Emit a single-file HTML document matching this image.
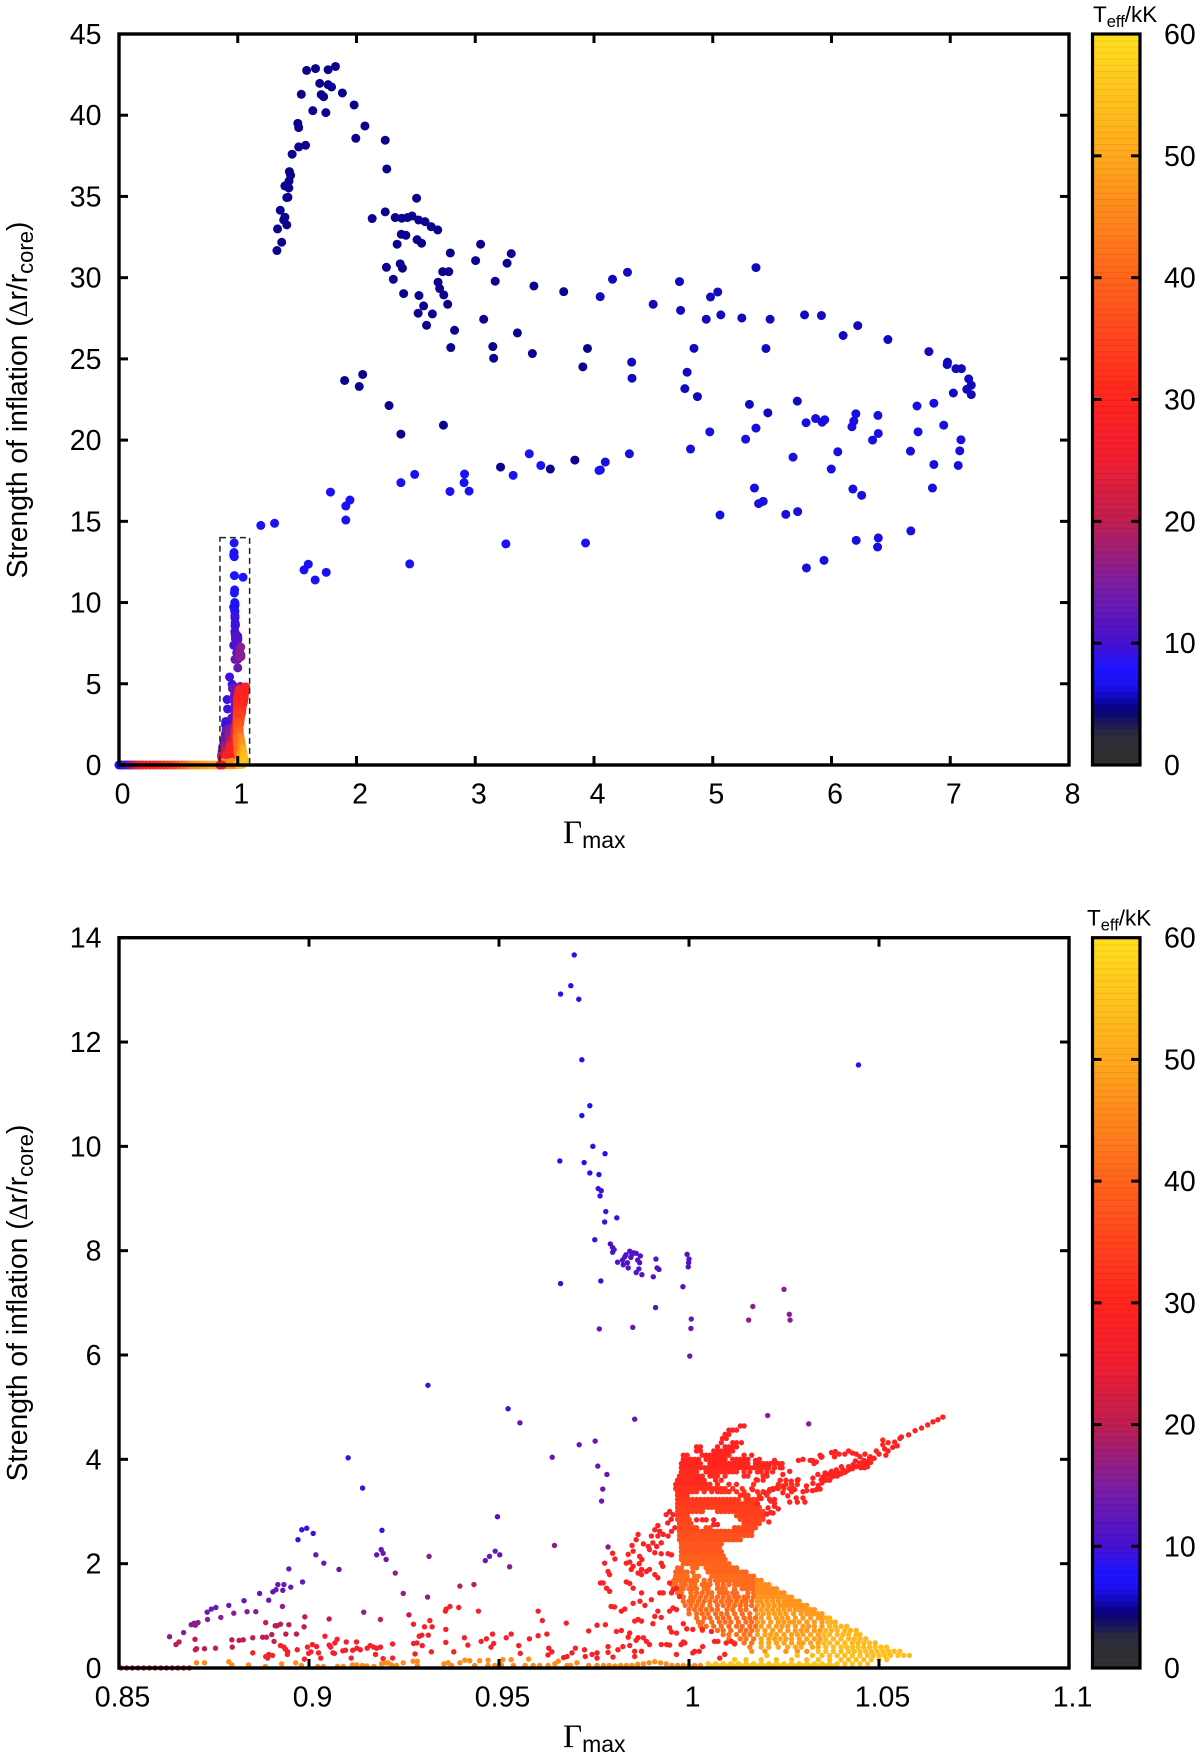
<!DOCTYPE html>
<html>
<head>
<meta charset="utf-8">
<title>Strength of inflation versus Gamma max</title>
<style>
html,body{margin:0;padding:0;background:#fff;}
svg{display:block;}
text{font-family:"Liberation Sans",sans-serif;fill:#000;}
</style>
</head>
<body>
<svg id="figure" xmlns="http://www.w3.org/2000/svg" width="1200" height="1760" viewBox="0 0 1200 1760"></svg>
<script>
// ---- axis tick labels ----
const wideXTicks=[0,1,2,3,4,5,6,7,8];
const wideYTicks=[0,5,10,15,20,25,30,35,40,45];
const zoomXTicks=[0.85,0.9,0.95,1,1.05,1.1];
const zoomYTicks=[0,2,4,6,8,10,12,14];
const teffTicks=[0,10,20,30,40,50,60];
const zoomBoxRange=[0.85,1.1,14];

// ---- colour scale stops: temperature / red / green / blue ----
const paletteTeff=[0,2.5,4.5,6.5,8,10,15,20,25,30,40,50,60];
const paletteRed=[48,45,8,26,30,70,125,190,240,255,255,255,255];
const paletteGreen=[48,45,0,16,20,16,30,30,30,36,100,168,222];
const paletteBlue=[48,60,125,240,255,210,160,80,50,30,28,28,30];

// ---- wide-range points: [Gamma_max, strength] ----
const wideNavy=[[1.33,31.67],[1.37,32.18],[1.335,33],[1.413,33.25],[1.387,33.55],[1.397,33.72],[1.358,34.15],[1.413,34.93],[1.423,34.95],[1.43,35.52],[1.397,35.65],[1.42,35.69],[1.432,35.95],[1.445,36.3],[1.435,36.53],[1.458,37.6],[1.513,38.05],[1.571,38.15],[1.513,39.24],[1.506,39.5],[1.535,41.29],[1.632,40.28],[1.742,40.16],[1.703,41.27],[1.723,41.14],[1.69,41.96],[1.761,41.88],[1.79,41.74],[1.58,42.76],[1.655,42.87],[1.761,42.8],[1.823,43],[1.881,41.37],[1.98,40.63],[2.071,39.34],[1.994,38.58],[2.242,38.46],[2.255,36.69],[2.132,33.64],[2.242,34.05],[2.326,33.7],[2.381,33.66],[2.429,33.7],[2.468,33.8],[2.506,34.89],[2.523,33.55],[2.577,33.45],[2.629,33.14],[2.684,32.94],[2.377,32.67],[2.416,32.61],[2.51,32.34],[2.548,32.12],[2.342,32.06],[2.79,31.52],[2.368,30.85],[2.387,30.58],[2.252,30.64],[2.31,29.9],[2.397,29.02],[2.726,30.37],[2.777,30.37],[2.687,29.72],[2.7,29.33],[2.526,28.9],[2.735,28.94],[2.768,28.36],[2.565,28.26],[2.519,27.81],[2.639,27.77],[2.59,27.07],[2.826,26.76],[2.794,25.7],[3.045,32.06],[3.003,31.05],[3.268,30.89],[3.303,31.48],[3.168,29.78],[3.494,29.49],[3.745,29.14],[3.071,27.44],[3.355,26.6],[3.148,25.76],[3.155,25.04],[3.481,25.33],[3.945,25.64],[3.906,24.51],[1.9,23.67],[2.052,24.04],[2.023,23.3],[2.274,22.13],[2.374,20.37],[2.732,20.92],[3.839,18.77],[3.213,18.34],[3.632,18.22]];
const wideDeep=[[4.052,28.83],[4.156,29.9],[4.282,30.33],[4.498,28.36],[4.72,29.76],[4.729,27.99],[4.981,28.81],[5.042,29.12],[4.945,27.44],[5.068,27.71],[5.245,27.52],[5.483,27.44],[5.364,30.62],[5.773,27.71],[5.915,27.67],[6.098,26.44],[6.221,27.05],[6.475,26.19],[4.842,25.65],[5.448,25.64],[4.317,24.8],[4.32,23.81],[4.784,24.18],[4.765,23.17],[4.871,22.68],[6.82,25.45],[6.977,24.8],[6.974,24.65],[7.048,24.4],[7.094,24.4],[7.155,23.77],[7.177,23.38],[7.139,23.13],[7.177,22.8],[7.026,22.9],[5.712,22.4],[5.309,22.2],[5.464,21.68]];
const wideMid=[[6.72,22.1],[6.862,22.27],[6.205,21.62],[6.391,21.52],[5.786,21.07],[5.866,21.33],[5.921,21.1],[5.943,21.25],[6.188,21.17],[6.172,20.82],[6.394,20.41],[6.346,20],[6.729,20.51],[6.945,20.92],[7.09,20.02],[7.08,19.34],[6.665,19.32],[6.053,19.28],[4.975,20.51],[5.277,20.06],[5.364,20.74],[4.813,19.45],[4.298,19.16],[4.095,18.65],[4.053,18.16],[5.676,18.95],[5.998,18.22],[6.862,18.5],[7.067,18.44],[6.85,17.05],[5.351,17.05],[6.18,16.99],[6.254,16.6],[5.425,16.23],[5.386,16.09],[5.615,15.43],[5.715,15.6],[5.061,15.39],[6.668,14.41],[6.208,13.83],[6.394,13.98],[6.388,13.42],[5.937,12.6],[5.789,12.13]];
const wideBright=[[3.455,19.16],[3.552,18.44],[4.042,18.13],[2.49,17.89],[2.91,17.91],[2.906,17.38],[2.374,17.38],[3.319,17.83],[2.787,16.84],[2.948,16.86],[1.781,16.8],[1.945,16.31],[1.91,15.94],[1.91,15.08],[1.194,14.75],[1.31,14.88],[3.258,13.61],[3.929,13.67],[1.594,12.36],[1.558,12.01],[1.745,11.86],[1.652,11.39],[2.448,12.38]];
// low-Gamma baseline: [Gamma_max, strength, teff]
const wideBaseline=[[0,0,7],[0.02,0,8],[0.04,0,9],[0.06,0,11],[0.08,0,13],[0.1,0,15],[0.12,0,17],[0.14,0,20],[0.16,0,22],[0.18,0,24],[0.2,0,26],[0.23,0,27],[0.26,0,28],[0.29,0,29],[0.32,0,30],[0.35,0,31],[0.38,0,32],[0.41,0,33],[0.44,0,34],[0.47,0,35],[0.5,0,37],[0.53,0,39],[0.56,0,41],[0.59,0,43],[0.62,0,45],[0.65,0,46],[0.68,0,47],[0.71,0,48],[0.74,0,49],[0.77,0,50],[0.8,0,51],[0.83,0,52],[0.86,0,53],[0.89,0,54],[0.92,0,55],[0.95,0,55]];

// ---- zoomed sparse groups: [Gamma_max, strength] ----
const zoomBlue=[[0.9698,13.67],[0.9689,13.08],[0.9662,12.92],[0.971,12.82],[0.9718,11.66],[1.0446,11.56],[0.9739,10.78],[0.9718,10.59],[0.9747,10],[0.9779,9.86],[0.966,9.72],[0.9724,9.69],[0.9739,9.49],[0.9763,9.46]];
const zoomIndigo=[[0.9761,9.19],[0.9769,9.15],[0.9766,9.05],[0.9781,8.75],[0.981,8.63],[0.9778,8.55],[0.9752,8.21],[0.9793,8.13],[0.9103,4.03],[0.9141,3.45],[0.9313,5.42],[0.9524,4.97],[0.9662,7.37],[0.9768,7.42],[0.8981,2.65],[0.8994,2.68],[0.8971,2.46],[0.9011,2.58],[0.9192,2.64]];
const zoomViolet=[[0.9799,8.06],[0.9803,8.02],[0.9799,7.97],[0.9844,7.99],[0.9854,7.96],[0.9861,7.95],[0.985,7.93],[0.9872,7.9],[0.9834,7.92],[0.9847,7.87],[0.9831,7.88],[0.9865,7.82],[0.9913,7.84],[0.9995,7.93],[1,7.84],[0.9999,7.77],[0.9998,7.69],[0.9812,7.78],[0.9825,7.82],[0.9838,7.77],[0.987,7.77],[0.9827,7.73],[0.984,7.67],[0.9868,7.65],[0.9861,7.58],[0.9876,7.54],[0.9916,7.67],[0.9921,7.64],[0.9906,7.5],[0.9984,7.31],[0.9912,6.91],[0.9496,2.9]];
const zoomPurple=[[1.0006,6.69],[1.0005,6.51],[0.9764,6.5],[0.9852,6.53],[1.0002,5.98],[0.9857,4.77],[0.9555,4.7],[0.964,4.04],[0.9711,4.28],[0.9753,4.35],[0.976,3.87],[0.9784,3.71],[0.9773,3.43],[0.977,3.2],[0.919,2.27],[0.9178,2.17],[0.9195,2.2],[0.9203,2.08],[0.9018,2.17],[0.9039,2.01],[0.9079,1.89],[0.8947,1.9],[0.9464,2.06],[0.9475,2.14],[0.949,2.24],[0.9502,2.17],[0.8983,1.65],[0.8918,1.6],[0.8934,1.6],[0.8913,1.5],[0.8905,1.46],[0.8931,1.49],[0.8952,1.55],[0.887,1.43],[0.8829,1.29],[0.8894,1.3],[0.8789,1.2],[0.8755,1.16],[0.8743,1.13],[0.8732,1.07]];
const zoomMagenta=[[1.025,7.26],[1.0168,6.93],[1.0264,6.78],[1.0157,6.67],[1.0266,6.67],[1.0207,4.84],[1.0315,4.68],[0.9227,1.82],[0.9316,2.14],[0.9646,2.35],[0.9787,2.32],[0.893,1.18],[0.8837,1.08],[0.886,1.08],[0.8802,1.05],[0.8768,0.97],[0.8733,0.93],[0.8708,0.87],[0.8698,0.86],[0.869,0.83],[0.8701,0.82],[0.9144,1.07],[0.867,0.68],[0.8633,0.6],[0.9248,1.43],[0.9312,1.36],[0.9528,1.94]];
const zoomCrimson=[[0.9188,0.93],[0.9053,0.94],[0.8989,0.98],[0.8987,0.79],[0.8886,0.87],[0.8911,0.81],[0.8916,0.81],[0.8925,0.84],[0.8947,0.83],[0.8658,0.5],[0.865,0.45],[0.9263,1.02],[0.9397,1.57],[0.9434,1.6],[0.87,0.55],[0.8701,0.35],[0.8704,0.37],[0.8725,0.37],[0.8754,0.38],[0.8797,0.54],[0.8798,0.4],[0.8816,0.53],[0.8827,0.54],[0.8852,0.58],[0.8878,0.59],[0.8888,0.59],[0.8902,0.64],[0.8908,0.51],[0.8939,0.65],[0.8967,0.65]];
const zoomRed=[[0.8925,0.43],[0.8934,0.4],[0.8938,0.36],[0.8944,0.31],[0.8943,0.26],[0.8969,0.35],[0.8852,0.29],[0.8886,0.22],[0.8894,0.26],[0.8904,0.24],[0.8891,0.19],[0.8988,0.17],[0.8996,0.4],[0.9009,0.45],[0.902,0.41],[0.8999,0.28],[0.9005,0.31],[0.9025,0.29],[0.9031,0.19],[0.9042,0.61],[0.9053,0.44],[0.9057,0.4],[0.9074,0.55],[0.9068,0.48],[0.9063,0.29],[0.9067,0.28],[0.9098,0.5],[0.9089,0.33],[0.9096,0.34],[0.9111,0.19],[0.9115,0.34],[0.9125,0.5],[0.9126,0.38],[0.9135,0.35],[0.9153,0.38],[0.9161,0.43],[0.917,0.4],[0.9178,0.38],[0.9188,0.4],[0.9175,0.26],[0.9195,0.18],[0.922,0.46],[0.922,0.19],[0.9275,0.84],[0.9318,0.91],[0.9304,0.79],[0.9324,0.79],[0.9359,1.09],[0.9361,1.13],[0.9371,1.18],[0.9394,1.16],[0.9446,1.09],[0.9603,1.09],[0.9614,0.91],[0.9677,0.86],[0.9758,0.82],[0.9736,0.71],[0.936,0.74],[0.9626,0.65],[0.9603,0.62],[0.958,0.56],[0.9532,0.65],[0.9519,0.58],[0.9483,0.65],[0.9467,0.56],[0.9453,0.51],[0.9409,0.58],[0.9418,0.44],[0.936,0.49],[0.9552,0.43],[0.9556,0.28],[0.9486,0.47],[0.9479,0.4],[0.9381,0.31],[0.9322,0.31],[0.9279,0.27],[0.9298,0.43],[0.9275,0.47],[0.9284,0.48],[0.929,0.61],[0.9297,0.63],[0.9314,0.63],[0.967,0.2],[0.9679,0.22],[0.9701,0.38],[0.9692,0.29],[0.9725,0.35],[0.9727,0.22],[0.9745,0.26],[0.9758,0.29],[0.9758,0.19],[0.9631,0.38],[0.9639,0.31],[0.9629,0.25],[0.9767,1.63]];
const zoomNearDense=[[0.9949,3],[0.994,2.94],[0.9953,2.85],[0.9944,2.78],[0.9958,2.94],[0.9963,2.69],[0.9954,2.62],[0.9918,2.73],[0.991,2.65],[0.9923,2.62],[0.9932,2.56],[0.9901,2.53],[0.9918,2.53],[0.9866,2.56],[0.9861,2.46],[0.9945,2.53],[0.9905,2.4],[0.988,2.38],[0.9893,2.33],[0.9915,2.33],[0.9927,2.4],[0.9896,2.27],[0.991,2.21],[0.985,2.35],[0.9853,2.24],[0.984,2.18],[0.987,2.14],[0.9876,2.08],[0.9869,2],[0.9875,1.89],[0.9945,2.19],[0.9954,2.17],[0.9927,2.19],[0.9927,2.01],[0.9931,1.95],[0.9896,1.89],[0.991,1.79],[0.9918,1.73],[0.9866,1.82],[0.9875,1.79],[0.9835,2.01],[0.9844,2.03],[0.9853,1.95],[0.9848,1.89],[0.9805,2.09],[0.9799,2.2],[0.9778,2.01],[0.9787,1.85],[0.9791,1.79],[0.9888,1.85],[0.9835,1.65],[0.9844,1.62],[0.9853,1.53],[0.9875,1.44],[0.9923,1.44],[0.9932,1.44],[0.9949,1.63],[0.9958,1.5],[0.9954,1.44],[0.9967,1.53],[0.9975,1.37],[0.9774,1.63],[0.9783,1.53],[0.9791,1.47],[0.9901,1.31],[0.9871,1.28],[0.9853,1.24],[0.9795,1.18],[0.9804,1.17],[0.9831,1.13],[0.9822,1.09],[0.9884,1.2],[0.9958,1.15],[0.9967,1.12],[0.9949,1.09],[0.9918,1.09],[0.991,0.99],[0.9927,0.97],[0.9866,0.93],[0.9857,0.9],[0.9875,0.9],[0.9905,0.85],[0.978,0.83],[0.9822,0.72],[0.9809,0.7],[0.9844,0.67],[0.984,0.59],[0.988,0.58],[0.9866,0.58],[0.9861,0.53],[0.9888,0.51],[0.9896,0.45],[0.9927,0.45],[0.9949,0.77],[0.9954,0.69],[0.9967,0.67],[0.9985,0.85],[0.9994,0.75],[1.001,0.74],[0.9989,0.48],[0.9979,0.45],[0.9941,0.45],[0.9949,0.44],[1.0035,0.74],[1.0036,0.41],[1.0027,0.32],[1.0015,0.32],[0.9985,0.5],[1.0059,0.7],[1.0067,0.51],[1.0076,0.51],[1.0098,0.48],[1.0111,0.51],[1.012,0.46],[1.0094,0.26],[1.0081,0.19],[0.9787,0.41],[0.9787,0.3],[0.98,0.21],[0.9813,0.35],[0.9826,0.41],[0.9844,0.43],[0.9857,0.32],[0.9857,0.22],[0.9875,0.32],[1.001,0.29],[0.9967,0.26]];
const zoomRightWing=[[1.0668,4.81],[1.0655,4.76],[1.0642,4.72],[1.0628,4.66],[1.0612,4.6],[1.0595,4.55],[1.0578,4.47],[1.0555,4.4],[1.0548,4.26],[1.0536,4.23],[1.0524,4.32],[1.0515,4.2],[1.051,4.37],[1.05,4.1],[1.0518,4.08],[1.0487,4.02],[1.0477,4.05],[1.047,3.96],[1.0478,3.94],[1.046,3.98],[1.0463,4.1],[1.045,4.05],[1.044,4.1],[1.043,4.12],[1.042,4.16],[1.041,4.1],[1.0395,4.1],[1.0385,4.15],[1.0375,4.13],[1.047,3.86],[1.046,3.9],[1.045,3.92],[1.044,3.86],[1.043,3.82],[1.042,3.8],[1.041,3.75],[1.04,3.72],[1.039,3.68],[1.038,3.68],[1.037,3.6],[1.036,3.6],[1.035,3.55],[1.034,3.5],[1.0335,3.42],[1.0325,3.4],[1.031,3.4],[1.0345,3.43],[1.0352,3.66],[1.0335,3.95],[1.0325,3.98],[1.03,4],[1.0345,4.08],[1.035,4.05],[1.0326,3.64],[1.0339,3.71],[1.0348,3.61],[1.0361,3.68],[1.0375,3.77],[1.0388,3.8],[1.0401,3.86],[1.0375,3.66],[1.0395,3.74],[1.0414,3.77],[1.0432,3.9],[1.0449,3.93],[1.0467,3.93],[1.0475,4.03],[1.0358,3.74],[1.0368,3.72],[1.0382,3.72],[1.0405,3.8],[1.042,3.86],[1.0438,3.97],[1.0452,3.84],[1.0462,3.84],[1.0493,4.16],[1.051,4.28],[1.0524,4.16],[1.0541,4.33],[1.0559,4.43],[1.0288,3.98],[1.0319,3.98],[1.0329,3.92],[1.0348,4.04],[1.0383,4.05]];
const zoomFanScatter=[[1.0175,3.98],[1.0225,3.98],[1.0245,3.84],[1.0265,3.77],[1.0285,3.6],[1.03,3.38],[1.0285,3.18],[1.0305,3.18],[1.026,3.3],[1.027,3.38],[1.0265,3.18],[1.0225,3.16],[1.0235,3.05],[1.0205,2.95],[1.0215,2.98],[1.0215,3.2],[1.021,2.8],[1.019,3.25],[1.018,3.15],[1.0167,3.42],[1.0177,3.61],[1.0204,3.71],[1.0221,3.42],[1.0247,3.71],[1.0269,3.58],[1.0278,3.42],[1.0287,3.61],[1.0282,3.26],[1.03,3.26],[1.0309,3.49],[1.0326,3.54],[1.0247,3.36],[1.0225,3.23],[1.0212,3.23],[1.0225,3.1],[1.0208,3.07],[1.0199,3.36],[1.0212,3.42],[1.023,3.45],[1.0247,3.49],[1.0221,2.97]];
// near-zero rows of the zoomed panel
const zoomOrangeLine=[[0.8704,0.1],[0.8725,0.1],[0.8789,0.12],[0.8797,0.06],[0.8841,0.06],[0.8885,0.03],[0.8928,0.08],[0.8965,0.1],[0.898,0.05],[0.9023,0.03],[0.9038,0.03],[0.9075,0.03],[0.909,0.03],[0.9114,0.06],[0.9125,0.06],[0.914,0.05],[0.9152,0.04],[0.9171,0.03],[0.9191,0.08],[0.92,0.1],[0.9208,0.1],[0.9217,0.06],[0.923,0.05],[0.9248,0.1],[0.9274,0.13],[0.9285,0.13],[0.9285,0.05],[0.9355,0.08],[0.9366,0.1],[0.9375,0.05],[0.9397,0.1],[0.941,0.15],[0.9423,0.14],[0.9436,0.05],[0.9449,0.14],[0.9471,0.15],[0.9471,0.05],[0.9489,0.05],[0.9506,0.06],[0.951,0.16],[0.9532,0.16],[0.9538,0.05],[0.9569,0.05],[0.9578,0.17],[0.959,0.05],[0.9607,0.05],[0.9629,0.05],[0.9647,0.08],[0.9656,0.13],[0.9679,0.05],[0.9688,0.05],[0.9705,0.1],[0.9736,0.05],[0.9758,0.05],[0.9775,0.05],[0.979,0.05],[0.9805,0.04],[0.982,0.05],[0.9835,0.05],[0.985,0.05],[0.9865,0.07],[0.988,0.08],[0.9895,0.1],[0.991,0.12],[0.9925,0.1],[0.994,0.08],[0.9955,0.05],[0.997,0.05],[0.9985,0.05],[1,0.05],[1.0015,0.05],[1.003,0.05]];
const zoomDarkLine=[[0.8505,0],[0.852,0],[0.8535,0],[0.855,0],[0.8565,0],[0.858,0],[0.8595,0],[0.861,0],[0.8625,0],[0.864,0],[0.8655,0],[0.867,0],[0.8685,0]];

// dense rows: [strength, teff, [Gamma_max values]]
const denseRows=[
[4.64,29,[1.0145,1.0135]],
[4.56,29,[1.0125,1.0115,1.0105]],
[4.48,29,[1.0105,1.0095]],
[4.4,29,[1.0098,1.0088]],
[4.32,29,[1.0138,1.0125,1.0115,1.0085]],
[4.24,29,[1.0125,1.0115,1.0105,1.0095,1.0075,1.002,1.003]],
[4.16,29,[1.0115,1.0105,1.0095,1.0085,1.0075,1.0065,1.002,1.003]],
[4.08,30,[0.9985,0.9995,1.0105,1.0095,1.0085,1.0075,1.0065,1.0055,1.0045,1.0035,1.0145,1.0165]],
[4,30,[0.9985,0.9995,1.0005,1.0015,1.0025,1.0045,1.0055,1.0065,1.0075,1.0085,1.0095,1.0115,1.0125,1.0135,1.0145,1.0155,1.0185]],
[3.92,30,[0.998,0.999,1,1.001,1.002,1.003,1.0055,1.0065,1.0075,1.0085,1.0095,1.0105,1.0115,1.0125,1.0135,1.0145,1.0155,1.0175,1.0185,1.0195,1.0205,1.0215,1.0225,1.0235,1.0245]],
[3.84,30,[0.998,0.999,1,1.001,1.002,1.003,1.004,1.005,1.006,1.007,1.008,1.009,1.01,1.011,1.012,1.013,1.014,1.015,1.016,1.017,1.018,1.019,1.02,1.021,1.0225,1.024]],
[3.76,31,[0.998,0.999,1,1.001,1.002,1.0045,1.0055,1.0065,1.0075,1.0085,1.0095,1.0105,1.0115,1.0125,1.0145,1.016,1.018,1.019,1.0205,1.022]],
[3.68,31,[0.9975,0.9985,0.9995,1.0005,1.0015,1.0025,1.0035,1.0055,1.0065,1.0075,1.0095,1.0145,1.0155,1.0195,1.0205]],
[3.6,31,[0.997,0.998,0.999,1,1.001,1.002,1.003,1.004,1.007,1.0085,1.018,1.0195,1.024,1.0255]],
[3.52,31,[0.9965,0.9975,0.9985,0.9995,1.0005,1.0015,1.0025,1.0035,1.0045,1.0055,1.0075,1.0105,1.0125,1.017,1.0235,1.0255,1.027,1.0285]],
[3.44,32,[0.9965,0.9975,0.9985,0.9995,1.0005,1.0015,1.0025,1.0035,1.0045,1.0055,1.0065,1.0075,1.0085,1.0095,1.0115,1.014,1.0165,1.022,1.0235,1.025,1.0265,1.0275]],
[3.38,32,[0.997,0.998,0.999,1,1.001,1.002,1.004,1.006,1.0075,1.0085,1.0095,1.0105,1.0125,1.0145,1.018,1.0195,1.021]],
[3.31,32,[0.997,0.998,0.999,0.9995,1.0135,1.0145,1.0155,1.0185,1.0205]],
[3.23,33,[0.997,0.998,0.999,1,1.001,1.002,1.003,1.004,1.005,1.006,1.007,1.008,1.009,1.01,1.011,1.012,1.013,1.015,1.016,1.017,1.018]],
[3.15,33,[0.997,0.998,0.999,1,1.001,1.002,1.003,1.004,1.005,1.006,1.007,1.008,1.009,1.01,1.011,1.012,1.013,1.014,1.015,1.016,1.017]],
[3.08,34,[0.997,0.998,0.999,1,1.001,1.002,1.003,1.004,1.005,1.006,1.007,1.008,1.009,1.01,1.011,1.012,1.013,1.014,1.015,1.016,1.017,1.018,1.0185]],
[3,34,[0.997,0.998,0.999,1,1.001,1.002,1.003,1.0035,1.0075,1.0085,1.0095,1.0105,1.0115,1.0125,1.0135,1.0145,1.0155,1.0165,1.0175,1.0185,1.0195]],
[2.92,34,[0.997,0.998,0.999,0.9995,1.0125,1.0135,1.0145,1.0155,1.0165,1.0175,1.0185,1.0195]],
[2.85,35,[0.997,0.998,0.999,1,1.0135,1.0145,1.0155,1.0165,1.0175,1.0185,1.0195]],
[2.84,28,[1.002,1.0035,1.0045,1.0065]],
[2.77,35,[0.9975,0.9985,0.9995,1.0005,1.0145,1.0155,1.0165,1.0175,1.0185]],
[2.75,28,[1.0065,1.0075]],
[2.69,36,[0.9975,0.9985,0.9995,1.0005,1.0015,1.002,1.0045,1.0055,1.012,1.013,1.014,1.015,1.016,1.017,1.0175]],
[2.62,36,[0.9975,0.9985,0.9995,1.0005,1.0015,1.0025,1.0035,1.0045,1.0055,1.0065,1.0075,1.0085,1.0095,1.0105,1.0115,1.0125,1.0135,1.0145,1.0155,1.0165]],
[2.54,37,[0.9975,0.9985,0.9995,1.0005,1.0015,1.0025,1.0035,1.0045,1.0055,1.0065,1.0075,1.0085,1.0095,1.0105,1.0115,1.0125,1.0135,1.0145,1.0155,1.0165]],
[2.46,37,[0.9975,0.9985,0.9995,1.0005,1.0015,1.0025,1.0035,1.0045,1.0055,1.0065,1.0075,1.0085,1.0095,1.0105,1.0115,1.0125,1.0135]],
[2.38,38,[0.998,0.999,1,1.001,1.002,1.003,1.004,1.005,1.006,1.007,1.008,1.0085]],
[2.31,38,[0.998,0.999,1,1.001,1.002,1.003,1.004,1.005,1.006,1.007,1.008]],
[2.23,38,[0.998,0.999,1,1.001,1.002,1.003,1.004,1.005,1.006,1.007,1.008,1.0085]],
[2.15,39,[0.998,0.999,1,1.001,1.002,1.003,1.004,1.005,1.006,1.007,1.008,1.009]],
[2.08,39,[0.998,0.999,1,1.001,1.002,1.003,1.004,1.005,1.006,1.007,1.008,1.009,1.0095]],
[2,40,[0.9985,0.9995,1.0005,1.0015,1.0025,1.0035,1.0045,1.0055,1.0065,1.0075,1.0085,1.0095,1.0105]],
[1.92,40,[0.997,0.998,1.001,1.002,1.0045,1.0055,1.0065,1.0075,1.0085,1.0095,1.0105,1.0115,1.0125]],
[1.84,40,[0.9965,0.9975,0.9985,0.9995,1.001,1.005,1.006,1.007,1.008,1.009,1.01,1.011,1.012,1.013,1.014,1.015]],
[1.76,41,[0.9965,0.9975,0.9985,0.9995,1.0015,1.0025,1.006,1.007,1.008,1.009,1.01,1.011,1.012,1.013,1.014,1.015,1.016,1.017]],
[1.68,41,[0.996,0.997,0.998,0.999,1,1.001,1.002,1.004,1.0055,1.007,1.008,1.009,1.01,1.011,1.012,1.013,1.014,1.015,1.016,1.017]],
[1.68,45,[1.018,1.019]],
[1.6,41,[0.9955,0.9965,0.998,0.999,1.0005,1.0015,1.0035,1.0045,1.0055,1.0075,1.009,1.0105,1.012,1.013,1.014,1.015,1.016,1.017]],
[1.6,46,[1.018,1.019,1.02,1.021]],
[1.52,41,[0.996,0.9975,0.9985,1,1.001,1.002,1.004,1.005,1.0075,1.0085,1.0095,1.012,1.014,1.015,1.016,1.017]],
[1.52,46,[1.018,1.019,1.02,1.021,1.022,1.023]],
[1.44,41,[0.997,0.998,1.0005,1.002,1.0035,1.005,1.006,1.008,1.009,1.01,1.0115,1.0125,1.0155,1.017]],
[1.44,46,[1.018,1.019,1.02,1.021,1.022,1.023,1.024,1.025]],
[1.36,41,[0.9985,1.0005,1.0015,1.003,1.0045,1.006,1.0075,1.009,1.0105,1.012,1.013,1.0145,1.0155,1.017]],
[1.36,47,[1.018,1.019,1.02,1.021,1.022,1.023,1.024,1.025,1.026,1.027]],
[1.28,41,[0.9985,1,1.001,1.0025,1.004,1.0055,1.007,1.0085,1.01,1.011,1.0125,1.014,1.015,1.0165]],
[1.28,47,[1.018,1.019,1.0205,1.022,1.0235,1.025,1.026,1.027,1.028,1.029]],
[1.2,41,[0.999,1.0005,1.002,1.0035,1.0055,1.0075,1.009,1.0105,1.012,1.0135,1.015,1.0165]],
[1.2,47,[1.018,1.0195,1.021,1.0225,1.024,1.025,1.026,1.027,1.028,1.029,1.03,1.031]],
[1.12,41,[1,1.0015,1.003,1.0045,1.006,1.0075,1.01,1.0115,1.0135,1.015,1.0175]],
[1.12,48,[1.019,1.0205,1.022,1.0235,1.025,1.0265,1.028,1.029,1.03,1.031,1.032,1.033]],
[1.04,41,[1,1.002,1.0035,1.005,1.007,1.0085,1.01,1.012,1.014,1.016]],
[1.04,48,[1.018,1.0195,1.021,1.0225,1.024,1.0255,1.0275,1.0295,1.031,1.032,1.033,1.034,1.035]],
[0.96,41,[1.002,1.004,1.0055,1.0075,1.009,1.0105,1.0125,1.0145,1.016,1.0175]],
[0.96,48,[1.019,1.021,1.023,1.0245,1.026,1.028,1.03,1.032,1.034,1.035]],
[0.96,52,[1.036,1.037]],
[0.88,41,[1.0025,1.0035,1.006,1.008,1.0095,1.011,1.013,1.015,1.0165]],
[0.88,48,[1.018,1.0195,1.0215,1.0235,1.025,1.0265,1.0275,1.029,1.031,1.033,1.035]],
[0.88,52,[1.0365,1.0375,1.0385]],
[0.8,41,[1.003,1.0045,1.0065,1.0085,1.0105,1.0125,1.014,1.016,1.0175]],
[0.8,48,[1.019,1.021,1.023,1.0245,1.026,1.028,1.03,1.0315,1.033,1.035]],
[0.8,52,[1.037,1.0385,1.04,1.0415]],
[0.72,41,[1.0035,1.0075,1.009,1.011,1.0135,1.015,1.0165]],
[0.72,48,[1.018,1.02,1.022,1.024,1.026,1.028,1.0295,1.031,1.033,1.0345]],
[0.72,52,[1.036,1.0375,1.039,1.041,1.0425,1.044]],
[0.64,42,[1.009,1.0105,1.0125,1.0145,1.016]],
[0.64,49,[1.018,1.02,1.0215,1.023,1.025,1.027,1.0285,1.03,1.032,1.034]],
[0.64,53,[1.0355,1.037,1.039,1.0405,1.042,1.044,1.045]],
[0.56,42,[1.0105,1.0135,1.015,1.017]],
[0.56,49,[1.019,1.021,1.0225,1.024,1.0255,1.027,1.029,1.031,1.033,1.0345]],
[0.56,53,[1.036,1.038,1.04,1.042,1.0435,1.045,1.0465]],
[0.48,42,[1.012,1.0145,1.0165]],
[0.48,49,[1.019,1.021,1.023,1.025,1.027,1.029,1.03,1.032,1.034]],
[0.48,53,[1.0355,1.037,1.039,1.041,1.043,1.0445,1.046,1.0475,1.049]],
[0.4,44,[1.016]],
[0.4,50,[1.019,1.021,1.0235,1.026,1.028,1.0295,1.0325,1.034]],
[0.4,54,[1.036,1.038,1.04,1.0415,1.043,1.0445,1.046,1.0475,1.049,1.0505,1.052]],
[0.32,47,[1.0165,1.02,1.0255,1.0285,1.031]],
[0.32,54,[1.034,1.036,1.038,1.04,1.042,1.0435,1.045,1.0465,1.048,1.0495,1.051,1.0525,1.054,1.0555]],
[0.24,54,[1.0205,1.0285,1.0325,1.035,1.037,1.039,1.041,1.043,1.045,1.047,1.0485,1.05,1.0515,1.053,1.055,1.0565,1.058]],
[0.16,54,[1.012,1.015,1.019,1.023,1.027,1.031,1.034,1.037,1.04,1.042,1.044,1.046,1.048,1.05,1.052]],
[0.08,55,[1.005,1.007,1.009,1.011,1.013,1.015,1.017,1.019,1.021,1.023,1.025,1.027,1.029,1.031,1.033,1.035,1.037,1.039,1.041,1.043,1.045,1.047]],
[0.04,55,[1.006,1.008,1.01,1.012,1.014,1.016,1.018,1.02,1.022,1.024,1.026,1.028,1.03,1.032,1.034,1.036,1.038]]
];

// mapping of series to colour-scale temperature
const wideTeffs=[4.8,5.6,6.2,7];
const sparseTeffs=[7.5,9.5,11,13,16,20,27,28.5,29.5,30,46,24];

const NS='http://www.w3.org/2000/svg';
const svg=document.getElementById('figure');
const wideFrame={left:119,right:1069,top:34,bottom:765,xMin:0,xMax:8,yMin:0,yMax:45};
const zoomFrame={left:119,right:1069,top:937.7,bottom:1668,xMin:0.85,xMax:1.1,yMin:0,yMax:14};
const barBox={left:1092.5,right:1140};
const tickFont=28.5;

function xPos(f,v){return f.left+(v-f.xMin)/(f.xMax-f.xMin)*(f.right-f.left);}
function yPos(f,v){return f.bottom-(v-f.yMin)/(f.yMax-f.yMin)*(f.bottom-f.top);}
function teffColor(t){
  let i=0;
  while(i<paletteTeff.length-2&&t>paletteTeff[i+1])i++;
  const k=Math.max(0,Math.min(1,(t-paletteTeff[i])/(paletteTeff[i+1]-paletteTeff[i])));
  const c=a=>Math.round(a[i]+(a[i+1]-a[i])*k);
  return 'rgb('+c(paletteRed)+','+c(paletteGreen)+','+c(paletteBlue)+')';
}
function group(parent,name){
  const g=document.createElementNS(NS,'g');
  
  
  parent.appendChild(g);
  return g;
}
function dot(parent,f,gx,gy,t,r){
  if(gx<f.xMin||gx>f.xMax||gy<f.yMin||gy>f.yMax)return;
  const c=document.createElementNS(NS,'circle');
  
  
  c.setAttribute('cx',xPos(f,gx).toFixed(2));
  c.setAttribute('cy',yPos(f,gy).toFixed(2));
  c.setAttribute('r',r);
  c.setAttribute('fill',teffColor(t));
  parent.appendChild(c);
}
function line(parent,x1,y1,x2,y2,w,name){
  const l=document.createElementNS(NS,'line');
  
  
  l.setAttribute('x1',x1);l.setAttribute('y1',y1);l.setAttribute('x2',x2);l.setAttribute('y2',y2);
  l.setAttribute('stroke','#000');l.setAttribute('stroke-width',w);
  parent.appendChild(l);
}
function label(parent,str,x,y,anchor,size,name){
  const t=document.createElementNS(NS,'text');
  
  
  t.setAttribute('x',x);t.setAttribute('y',y);
  t.setAttribute('text-anchor',anchor);
  t.setAttribute('font-size',size);
  t.textContent=str;
  parent.appendChild(t);
  return t;
}
function tspan(parent,str,opts){
  const s=document.createElementNS(NS,'tspan');
  for(const k in opts)s.setAttribute(k,opts[k]);
  s.textContent=str;
  parent.appendChild(s);
  return s;
}
function drawDense(g,f,r){
  denseRows.forEach(row=>{row[2].forEach(gx=>dot(g,f,gx,row[0],row[1],r));});
}
const sparseSets=[zoomBlue,zoomIndigo,zoomViolet,zoomPurple,zoomMagenta,zoomCrimson,zoomRed,zoomNearDense,zoomRightWing,zoomFanScatter,zoomOrangeLine,zoomDarkLine];
function drawSparse(g,f,r){
  sparseSets.forEach((set,i)=>{set.forEach(p=>dot(g,f,p[0],p[1],sparseTeffs[i],r));});
}
function drawAxes(f,xTicks,yTicks,name){
  const g=group(svg,name);
  const rect=document.createElementNS(NS,'rect');
  
  
  rect.setAttribute('x',f.left);rect.setAttribute('y',f.top);
  rect.setAttribute('width',f.right-f.left);rect.setAttribute('height',f.bottom-f.top);
  rect.setAttribute('fill','none');rect.setAttribute('stroke','#000');rect.setAttribute('stroke-width',3.4);
  g.appendChild(rect);
  xTicks.forEach(v=>{
    const x=xPos(f,v);
    if(v>f.xMin&&v<f.xMax){
      line(g,x,f.bottom,x,f.bottom-9,3,'x-tick');
      line(g,x,f.top,x,f.top+9,3,'x-tick');
    }
    label(g,String(v),x+3.5,f.bottom+38.5,'middle',tickFont,'x-tick-label');
  });
  yTicks.forEach(v=>{
    const y=yPos(f,v);
    if(v>f.yMin&&v<f.yMax){
      line(g,f.left,y,f.left+9,y,3,'y-tick');
      line(g,f.right,y,f.right-9,y,3,'y-tick');
    }
    label(g,String(v),101.5,y+10,'end',tickFont,'y-tick-label');
  });
}
function drawBar(f,name,titleX){
  const g=group(svg,name);
  const step=0.5;
  for(let t=0;t<60;t+=step){
    const r=document.createElementNS(NS,'rect');
    
    
    const y1=f.bottom-(t+step)/60*(f.bottom-f.top);
    r.setAttribute('x',barBox.left);r.setAttribute('y',y1.toFixed(2));
    r.setAttribute('width',barBox.right-barBox.left);
    r.setAttribute('height',(step/60*(f.bottom-f.top)+0.4).toFixed(2));
    r.setAttribute('fill',teffColor(t+step/2));
    g.appendChild(r);
    const stripe=document.createElementNS(NS,'rect');
    
    
    stripe.setAttribute('x',barBox.left);stripe.setAttribute('y',y1.toFixed(2));
    stripe.setAttribute('width',barBox.right-barBox.left);
    stripe.setAttribute('height',1.5);
    stripe.setAttribute('fill','#000');
    stripe.setAttribute('fill-opacity',0.06);
    g.appendChild(stripe);
  }
  const frame=document.createElementNS(NS,'rect');
  
  
  frame.setAttribute('x',barBox.left);frame.setAttribute('y',f.top);
  frame.setAttribute('width',barBox.right-barBox.left);frame.setAttribute('height',f.bottom-f.top);
  frame.setAttribute('fill','none');frame.setAttribute('stroke','#000');frame.setAttribute('stroke-width',3.2);
  g.appendChild(frame);
  teffTicks.forEach(v=>{
    const y=f.bottom-v/60*(f.bottom-f.top);
    if(v>0&&v<60){
      line(g,barBox.left,y,barBox.left+9,y,3,'colorbar-tick');
      line(g,barBox.right,y,barBox.right-9,y,3,'colorbar-tick');
    }
    label(g,String(v),1164,y+10,'start',tickFont,'colorbar-tick-label');
  });
  const title=label(g,'T',titleX,f.top-12,'start',22.5,'colorbar-title');
  tspan(title,'eff',{dy:5,'font-size':16.5});
  tspan(title,'/kK',{dy:-5});
}
function drawYTitle(cy){
  const t=label(svg,'Strength of inflation (',0,0,'middle',28.3,'y-axis-title');
  t.setAttribute('transform','translate(27,'+cy+') rotate(-90)');
  tspan(t,'\u0394',{style:'font-family:"Liberation Serif",serif','font-size':26});
  tspan(t,'r/r',{});
  tspan(t,'core',{dy:6,'font-size':22});
  tspan(t,')',{dy:-6});
}
function drawXTitle(y){
  const t=label(svg,'\u0393',563,y,'start',33,'x-axis-title');
  t.setAttribute('style','font-family:"Liberation Serif",serif');
  tspan(t,'max',{dy:5,'font-size':23,style:'font-family:"Liberation Sans",sans-serif'});
}

// ---- top panel ----
const wideG=group(svg,'wide-range-points');
[wideNavy,wideDeep,wideMid,wideBright].forEach((set,i)=>{set.forEach(p=>dot(wideG,wideFrame,p[0],p[1],wideTeffs[i],4.5));});
wideBaseline.forEach(p=>dot(wideG,wideFrame,p[0],p[1],p[2],4.5));
drawSparse(wideG,wideFrame,4.5);
drawDense(wideG,wideFrame,4.5);

const boxEl=document.createElementNS(NS,'rect');


boxEl.setAttribute('x',xPos(wideFrame,zoomBoxRange[0]));
boxEl.setAttribute('y',yPos(wideFrame,zoomBoxRange[2]));
boxEl.setAttribute('width',xPos(wideFrame,zoomBoxRange[1])-xPos(wideFrame,zoomBoxRange[0]));
boxEl.setAttribute('height',yPos(wideFrame,0)-yPos(wideFrame,zoomBoxRange[2]));
boxEl.setAttribute('fill','none');
boxEl.setAttribute('stroke','#222');
boxEl.setAttribute('stroke-width',1.5);
boxEl.setAttribute('stroke-dasharray','6 4');
svg.appendChild(boxEl);

drawAxes(wideFrame,wideXTicks,wideYTicks,'wide-axes');
drawBar(wideFrame,'wide-colorbar',1093);
drawYTitle(400);
drawXTitle(843);

// ---- bottom panel ----
const zoomG=group(svg,'zoomed-points');
drawDense(zoomG,zoomFrame,2.7);
drawSparse(zoomG,zoomFrame,2.7);
drawAxes(zoomFrame,zoomXTicks,zoomYTicks,'zoomed-axes');
drawBar(zoomFrame,'zoomed-colorbar',1087);
drawYTitle(1303);
drawXTitle(1747);
</script>
</body>
</html>
